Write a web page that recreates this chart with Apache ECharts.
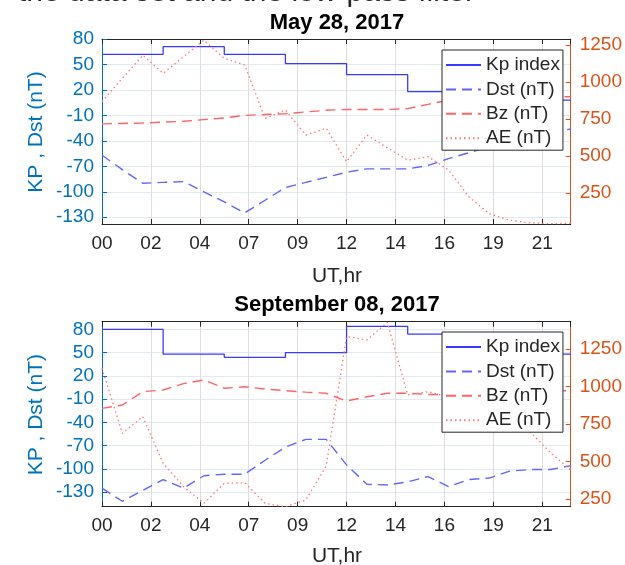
<!DOCTYPE html>
<html><head><meta charset="utf-8">
<script src="https://cdn.jsdelivr.net/npm/echarts@6/dist/echarts.min.js"></script>
<style>html,body{margin:0;padding:0;background:#fff}#c{width:625px;height:565px}</style>
</head><body><div id="c"></div>
<script>
// ---- data ----
const hours = [0,1,2,3,4,5,6,7,8,9,10,11,12,13,14,15,16,17,18,19,20,21,22,23];
const kpHours = [0,3,6,9,12,15,18,21,23];
const leftTicks = [-130,-100,-70,-40,-10,20,50,80];
const rightTicks = [250,500,750,1000,1250];
const legendNames = ['Kp index','Dst (nT)','Bz (nT)','AE (nT)'];
const titles = ['May 28, 2017','September 08, 2017'];

const mayKp  = [62,71,62,51,38,18,13,8,8];
const mayDst = [-57,-74,-90,-89,-88,-100,-112,-125,-110,-95,-89,-83,-77,-73,-73,-73,-69,-61,-54,-47,-41,-36,-31,-26];
const mayBz  = [-20,-19.5,-19,-18,-17,-15,-13,-10,-9,-8,-6,-4,-3,-3,-3,-2,3,8,10,11,11.5,12,12,12];
const mayAe  = [867,1025,1180,1058,1170,1283,1160,1114,754,810,641,687,461,641,555,472,495,405,224,110,65,48,42,45];

const sepKp  = [80,48,44,50,84,74,57,48,48];
const sepDst = [-125,-142,-128,-114,-125,-109,-107,-107,-89,-72,-62,-62,-95,-120,-121,-117,-110,-123,-114,-112,-103,-101,-101,-96];
const sepBz  = [-22,-17.6,-0.4,1.8,10,14.7,4,6,3,0.9,-1,-2.5,-12.5,-6.9,-2.5,-2.5,-4,-4,-3,-2,-1,0,0.5,0.9];
const sepAe  = [1123,689,800,489,333,222,355,359,222,199,244,470,1334,1312,1430,945,967,930,900,850,780,700,560,444];

// ---- styles ----
const FONT = '"Liberation Sans", Arial, Helvetica, sans-serif';
const BLUE = '#0072BD', ORANGE = '#D95319', DARK = '#262626';
const gridTop = [39, 321.7], gridH = 185;
const leftRange = [[-138, 80], [-149, 90]];
const rightRange = [[40, 1290], [199, 1434]];

function pair(xs, ys){ return xs.map((x,i)=>[x, ys[i]]); }
function fmtHour(v){ const h = Math.floor(v + 1e-6); return (h<10?'0':'') + h; }

const grids = [], xAxes = [], yAxes = [], series = [], legends = [], graphics = [];
const sets = [[mayKp,mayDst,mayBz,mayAe],[sepKp,sepDst,sepBz,sepAe]];
const legendTop = [50, 332];

for (let g=0; g<2; g++){
  grids.push({left:102, right:53, top:gridTop[g], height:gridH, containLabel:false});
  xAxes.push({gridIndex:g, type:'value', min:0, max:23, interval:2.4, position:'bottom',
    axisLine:{show:true, onZero:false, lineStyle:{color:DARK, width:1}},
    axisTick:{show:true, inside:true, length:5, lineStyle:{color:DARK}},
    axisLabel:{show:true, fontSize:19, fontFamily:FONT, color:DARK, margin:10, showMaxLabel:false,
      formatter:(v)=> (Math.abs(v/2.4 - Math.round(v/2.4))<1e-6 ? fmtHour(v) : '')},
    splitLine:{show:true, lineStyle:{color:'#dedede', width:1}}});
  xAxes.push({gridIndex:g, type:'value', min:0, max:23, interval:2.4, position:'top',
    axisLine:{show:true, onZero:false, lineStyle:{color:DARK, width:1}},
    axisTick:{show:true, inside:true, length:5, lineStyle:{color:DARK}},
    axisLabel:{show:false}, splitLine:{show:false}});
  yAxes.push({gridIndex:g, type:'value', position:'left', min:leftRange[g][0], max:leftRange[g][1],
    axisLine:{show:true, onZero:false, lineStyle:{color:BLUE, width:1}},
    axisTick:{show:true, inside:true, length:5, lineStyle:{color:BLUE}, customValues:leftTicks},
    axisLabel:{show:true, fontSize:19, fontFamily:FONT, color:BLUE, margin:8, customValues:leftTicks,
      formatter:(v)=>String(v)},
    splitLine:{show:true, lineStyle:{color:'#e1eaf2', width:1}}});
  yAxes.push({gridIndex:g, type:'value', position:'right', min:rightRange[g][0], max:rightRange[g][1],
    axisLine:{show:true, onZero:false, lineStyle:{color:ORANGE, width:1}},
    axisTick:{show:true, inside:true, length:5, lineStyle:{color:ORANGE}, customValues:rightTicks},
    axisLabel:{show:true, fontSize:19, fontFamily:FONT, color:ORANGE, margin:9, customValues:rightTicks,
      formatter:(v)=>String(v)},
    splitLine:{show:false}});

  const [kp,dst,bz,ae] = sets[g];
  const xi = g*2, yl = g*2, yr = g*2+1;
  series.push({name:legendNames[0], type:'line', xAxisIndex:xi, yAxisIndex:yl, data:pair(kpHours,kp),
    step:'end', symbol:'none', lineStyle:{color:'#3a3aff', width:1.3, type:'solid'}, itemStyle:{color:'#3a3aff'}, z:3});
  series.push({name:legendNames[1], type:'line', xAxisIndex:xi, yAxisIndex:yl, data:pair(hours,dst),
    symbol:'none', lineStyle:{color:'#6464ff', width:1.4, type:[10,6]}, itemStyle:{color:'#6464ff'}, z:3});
  series.push({name:legendNames[2], type:'line', xAxisIndex:xi, yAxisIndex:yl, data:pair(hours,bz),
    symbol:'none', lineStyle:{color:'#ff6464', width:1.4, type:[10,6]}, itemStyle:{color:'#ff6464'}, z:3});
  series.push({name:legendNames[3], type:'line', xAxisIndex:xi, yAxisIndex:yr, data:pair(hours,ae),
    symbol:'none', lineStyle:{color:'#ff7777', width:1.3, type:[1.5,3]}, itemStyle:{color:'#ff7777'}, z:3});

  legends.push({data:legendNames, orient:'vertical', left:442, top:legendTop[g],
    itemWidth:35, itemHeight:20, itemGap:4.4, itemTextGap:3, padding:[5,3,2,3],
    itemStyle:{opacity:0},
    backgroundColor:'#fff', borderColor:DARK, borderWidth:1, selectedMode:false,
    textStyle:{fontSize:19, fontFamily:FONT, color:DARK, lineHeight:20}});

  graphics.push({type:'text', x:337, y:[22.5,304.5][g], z:10,
    style:{text:titles[g], font:'bold 22px ' + FONT, fill:'#000', textAlign:'center', textVerticalAlign:'middle', align:'center', verticalAlign:'middle'}});
  graphics.push({type:'text', x:337, y:[276,556][g], z:10,
    style:{text:'UT,hr', font:'21px ' + FONT, fill:DARK, textAlign:'center', textVerticalAlign:'middle', align:'center', verticalAlign:'middle'}});
  graphics.push({type:'text', x:36, y:gridTop[g]+gridH/2+0.5, rotation:Math.PI/2, z:10,
    style:{text:'KP , Dst (nT)', font:'21px ' + FONT, fill:BLUE, textAlign:'center', textVerticalAlign:'middle', align:'center', verticalAlign:'middle'}});
}
graphics.push({type:'text', x:18, y:8, z:10,
  style:{text:'the data set and the low-pass filter', font:'30px ' + FONT, fill:DARK, textAlign:'left', textVerticalAlign:'bottom', align:'left', verticalAlign:'bottom'}});

const chart = echarts.init(document.getElementById('c'), null, {renderer:'canvas'});
chart.setOption({
  animation:false, backgroundColor:'#fff',
  grid:grids, xAxis:xAxes, yAxis:yAxes, series:series, legend:legends, graphic:graphics
});
</script></body></html>
